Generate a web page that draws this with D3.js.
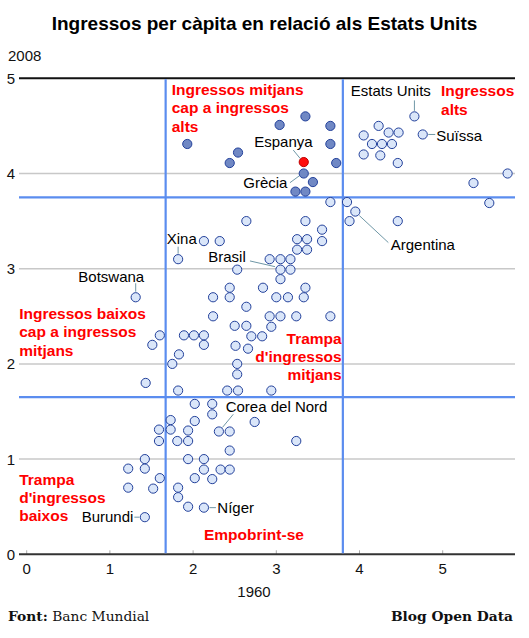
<!DOCTYPE html>
<html><head><meta charset="utf-8">
<script src="https://cdn.jsdelivr.net/npm/d3@7"></script>
<style>
html,body{margin:0;padding:0;background:#fff;}
svg text{font-family:"Liberation Sans",Arial,sans-serif;}
</style></head>
<body>
<svg id="chart" width="529" height="638"></svg>
<script>
// ---- DATA ----
const title = "Ingressos per càpita en relació als Estats Units";
const xAxisLabel = "1960";
const yAxisLabel = "2008";
const xTicks = [0, 1, 2, 3, 4, 5];
const yTicks = [0, 1, 2, 3, 4, 5];
const thresholdX = [1.67, 3.8];
const thresholdY = [1.65, 3.75];

// light-blue points (x = 1960, y = 2008)
const lightX = [4.66,4.76,4.23,4.05,4.35,4.47,4.15,4.27,4.39,4.05,4.25,4.46,5.37,5.78,5.56,3.85,3.95,3.88,4.46,3.65,
  2.64,3.35,3.55,3.55,3.25,3.37,3.25,3.37,2.13,2.32,1.82,2.92,3.05,3.17,3.05,3.17,2.53,3.05,2.44,2.84,3.35,2.24,2.44,3.00,3.14,3.33,2.64,2.24,2.92,3.05,3.24,3.65,2.50,2.64,2.94,1.60,1.89,2.01,2.13,2.70,2.83,1.51,2.13,2.51,2.66,1.83,1.75,2.53,2.53,1.43,1.82,2.41,2.54,2.94,1.31,
  2.02,2.23,2.23,1.73,2.02,2.74,1.59,1.73,1.94,2.31,2.44,1.59,1.81,1.94,3.24,2.44,1.42,1.94,2.13,1.22,1.42,2.13,2.33,2.44,1.60,2.02,2.23,1.22,1.52,1.82,1.82,1.94,2.13,1.42];
const lightY = [4.60,4.41,4.50,4.40,4.43,4.43,4.31,4.31,4.31,4.20,4.19,4.11,3.90,4.00,3.69,3.70,3.60,3.50,3.50,3.70,
  3.50,3.50,3.41,3.29,3.31,3.31,3.20,3.20,3.29,3.29,3.10,3.10,3.10,3.10,2.99,2.99,2.99,2.89,2.80,2.80,2.80,2.70,2.70,2.70,2.70,2.70,2.60,2.50,2.50,2.50,2.50,2.50,2.40,2.40,2.39,2.30,2.30,2.30,2.30,2.29,2.29,2.20,2.20,2.19,2.16,2.10,2.00,2.00,1.89,1.80,1.72,1.72,1.72,1.72,2.70,
  1.58,1.58,1.47,1.41,1.40,1.39,1.31,1.31,1.30,1.29,1.29,1.19,1.19,1.19,1.19,1.09,1.00,1.00,1.00,0.90,0.90,0.89,0.89,0.89,0.80,0.80,0.79,0.70,0.69,0.70,0.60,0.50,0.49,0.39];
// darker points (middle income -> high income)
const darkX = [1.93,2.54,2.44,3.04,3.35,3.65,3.65,3.72,3.33,3.44,3.23,3.35];
const darkY = [4.31,4.22,4.11,4.51,4.60,4.50,4.31,4.11,4.00,3.91,3.81,3.81];
// highlighted point: Espanya
const spainX = [3.33];
const spainY = [4.12];

// named countries
const countryNames = ["Estats Units","Suïssa","Espanya","Grècia","Argentina","Xina","Brasil","Botswana","Corea del Nord","Níger","Burundi"];
const countryX = [4.66,4.76,3.33,3.33,3.95,1.82,3.05,1.31,2.31,2.13,1.42];
const countryY = [4.60,4.41,4.12,4.00,3.60,3.10,2.99,2.70,1.29,0.49,0.39];

const zoneLabels = [
  ["Ingressos mitjans","cap a ingressos","alts"],
  ["Ingressos","alts"],
  ["Ingressos baixos","cap a ingressos","mitjans"],
  ["Trampa","d'ingressos","mitjans"],
  ["Trampa","d'ingressos","baixos"],
  ["Empobrint-se"]
];
const zoneX = [1.743, 4.98, -0.09, 3.786, -0.09, 2.131];
const zoneY = [4.825, 4.81, 2.47, 2.214, 0.733, 0.15];

const sourceLabel = "Banc Mundial";
const brandLabel = "Blog Open Data";

// ---- DRAWING ----
const svg = d3.select("#chart");
const x = d3.scaleLinear().domain([0, 5]).range([26.7, 442.7]);
const y = d3.scaleLinear().domain([0, 5]).range([554.3, 78.3]);
const left = 19, right = 515;

svg.append("text").attr("x", 264.5).attr("y", 30).attr("text-anchor", "middle")
  .style("font-weight", "bold").style("font-size", "19px").text(title);

// gridlines
svg.append("g").selectAll("line").data(yTicks.filter(d => d > 0 && d < 5)).join("line")
  .attr("x1", left).attr("x2", right).attr("y1", d => y(d)).attr("y2", d => y(d))
  .attr("stroke", "#c8c8c8").attr("stroke-width", 1.5);

// bottom ticks
svg.append("g").selectAll("line").data(xTicks).join("line")
  .attr("x1", d => x(d)).attr("x2", d => x(d)).attr("y1", y(0) - 4).attr("y2", y(0))
  .attr("stroke", "#aaa").attr("stroke-width", 1);

// top and bottom frame lines
svg.append("line").attr("x1", left).attr("x2", right).attr("y1", y(5)).attr("y2", y(5))
  .attr("stroke", "#111").attr("stroke-width", 2);
svg.append("line").attr("x1", left).attr("x2", right).attr("y1", y(0)).attr("y2", y(0))
  .attr("stroke", "#333").attr("stroke-width", 2);

// threshold lines
const blue = "#5b8def";
svg.append("g").selectAll("line").data(thresholdX).join("line")
  .attr("x1", d => x(d)).attr("x2", d => x(d)).attr("y1", y(5)+1).attr("y2", y(0)-1)
  .attr("stroke", blue).attr("stroke-width", 2.2);
svg.append("g").selectAll("line").data(thresholdY).join("line")
  .attr("x1", left).attr("x2", right).attr("y1", d => y(d)).attr("y2", d => y(d))
  .attr("stroke", blue).attr("stroke-width", 2.2);

// tick labels
svg.append("g").selectAll("text").data(yTicks).join("text")
  .attr("x", 15).attr("y", d => y(d)).attr("dy", "0.36em").attr("text-anchor", "end")
  .style("font-size", "15px").attr("fill", "#111").text(d => d);
svg.append("g").selectAll("text").data(xTicks).join("text")
  .attr("x", d => x(d)).attr("y", 574).attr("text-anchor", "middle")
  .style("font-size", "15px").attr("fill", "#111").text(d => d);
svg.append("text").attr("x", 254).attr("y", 597).attr("text-anchor", "middle")
  .style("font-size", "15px").attr("fill", "#111").text(xAxisLabel);
svg.append("text").attr("x", 8).attr("y", 61)
  .style("font-size", "15px").attr("fill", "#111").text(yAxisLabel);

// leader lines + country labels (offsets in px relative to point)
const labelLayout = {
  "Estats Units": {tx:-63.6, ty:-20, anchor:"start", l:[0,-16,0,-5.5]},
  "Suïssa": {tx:13.5, ty:6.7, anchor:"start", l:[5.5,0,12.5,0]},
  "Espanya": {tx:-49.5, ty:-15.4, anchor:"start", l:[-10.5,-12,-3.5,-3.5]},
  "Grècia": {tx:-60.5, ty:14.2, anchor:"start", l:[-13.8,9.2,-4,2]},
  "Argentina": {tx:35.4, ty:38.4, anchor:"start", l:[4,4,33,31]},
  "Xina": {tx:-11.4, ty:-14.9, anchor:"start", l:[0,-12.5,0,-5.5]},
  "Brasil": {tx:-72.2, ty:-8, anchor:"start", l:[-30.5,-8.7,-5.5,-3]},
  "Botswana": {tx:-57.4, ty:-15.6, anchor:"start", l:[0,-14,0,-5.5]},
  "Corea del Nord": {tx:6.8, ty:-19.8, anchor:"start", l:[14.4,-17.2,3.5,-4]},
  "Níger": {tx:13.4, ty:5, anchor:"start", l:[5.5,0,12,0]},
  "Burundi": {tx:-11.5, ty:4.5, anchor:"end", l:[-10.5,0,-5.5,0]}
};
const countries = countryNames.map((n, i) => ({name:n, px:x(countryX[i]), py:y(countryY[i]), ...labelLayout[n]}));
svg.append("g").selectAll("line").data(countries).join("line")
  .attr("x1", d => d.px + d.l[0]).attr("y1", d => d.py + d.l[1])
  .attr("x2", d => d.px + d.l[2]).attr("y2", d => d.py + d.l[3])
  .attr("stroke", "#6f97a6").attr("stroke-width", 1);

// points
const r = 4.6;
function drawPts(xs, ys, fill, stroke) {
  svg.append("g").selectAll("circle").data(xs.map((v, i) => [v, ys[i]])).join("circle")
    .attr("cx", d => x(d[0])).attr("cy", d => y(d[1])).attr("r", r)
    .attr("fill", fill).attr("stroke", stroke).attr("stroke-width", 1);
}
drawPts(lightX, lightY, "#dae6f9", "#23419b");
drawPts(darkX, darkY, "#7088c4", "#23419b");
drawPts(spainX, spainY, "#ff0d0d", "#c00000");

svg.append("g").selectAll("text").data(countries).join("text")
  .attr("x", d => d.px + d.tx).attr("y", d => d.py + d.ty).attr("text-anchor", d => d.anchor)
  .style("font-size", "15px").attr("fill", "#000").text(d => d.name);

// zone labels
const anchors = ["start","start","start","end","start","start"];
zoneLabels.forEach((lines, i) => {
  const t = svg.append("text").attr("x", x(zoneX[i])).attr("y", y(zoneY[i]))
    .attr("text-anchor", anchors[i]).attr("fill", "#ff0000")
    .style("font-weight", "bold").style("font-size", "15.5px");
  lines.forEach((ln, j) => t.append("tspan").attr("x", x(zoneX[i])).attr("dy", j ? 18.3 : 0).text(ln));
});

// footer
const foot = svg.append("text").attr("x", 8).attr("y", 621)
  .style("font-family", "'DejaVu Serif',serif").style("font-size", "13.8px").attr("fill", "#111");
foot.append("tspan").style("font-weight", "bold").text("Font:");
foot.append("tspan").text(" " + sourceLabel);
svg.append("text").attr("x", 513).attr("y", 621).attr("text-anchor", "end")
  .style("font-family", "'DejaVu Serif',serif").style("font-weight", "bold").style("font-size", "13.8px")
  .attr("fill", "#111").text(brandLabel);
</script>
</body></html>
